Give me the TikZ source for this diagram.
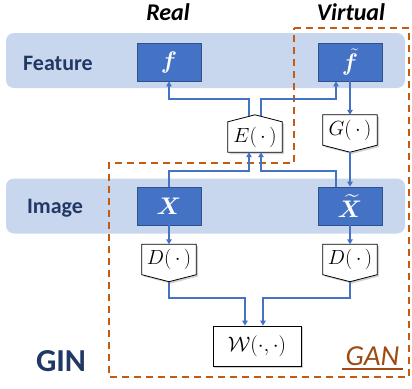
\RequirePackage{fix-cm}
\documentclass[tikz,border=0pt]{standalone}
\usepackage[no-math]{fontspec}
\setmainfont{Carlito}
\usepackage{amsmath,bm}
\usetikzlibrary{arrows.meta,calc}
\definecolor{bandfill}{HTML}{C9D7EE}
\definecolor{boxfill}{HTML}{4472C4}
\definecolor{boxedge}{HTML}{2F528F}
\definecolor{flow}{HTML}{4472C4}
\definecolor{navy}{HTML}{203864}
\definecolor{ganline}{HTML}{C55A11}
\definecolor{gantext}{HTML}{9E4A12}
\pgfdeclarelayer{back}
\pgfdeclarelayer{mid}
\pgfsetlayers{back,mid,main}
\tikzset{
  band/.style={fill=bandfill, rounded corners=8pt, draw=none, minimum width=399pt, minimum height=55pt, inner sep=0pt},
  vbox/.style={fill=boxfill, draw=boxedge, line width=0.8pt, minimum width=64pt, minimum height=38pt, inner sep=0pt, text=white, font=\fontsize{24}{28}\selectfont},
  opbody/.style={minimum width=54pt, minimum height=30pt, inner sep=0pt, font=\fontsize{20.5}{22}\selectfont},
  opline/.style={draw=black, line width=0.8pt, fill=white},
  opshadow/.style={fill=black!45, opacity=0.4, transform canvas={shift={(1.8pt,-1.8pt)}}},
  flowline/.style={draw=flow, line width=1.5pt, -{Triangle[length=5pt,width=5.5pt]}},
  rowlabel/.style={anchor=base, text=navy, font=\fontsize{22}{26}\selectfont\bfseries},
  collabel/.style={anchor=base, font=\fontsize{24}{28}\selectfont\bfseries\itshape},
  ganbox/.style={draw=ganline, line width=1.6pt, dash pattern=on 7pt off 5pt}
}
\begin{document}
\begin{tikzpicture}[x=1pt,y=-1pt]
\useasboundingbox (0,0) rectangle (412,388);

% row bands
\begin{pgfonlayer}{back}
\node[band] (featband) at (205.5,60.5) {};
\node[band] (imgband) at (205.5,206) {};
\end{pgfonlayer}

% column and row titles
\node[collabel] (real) at (168,20) {Real};
\node[collabel] (virtual) at (351,20) {Virtual};
\node[rowlabel] (feature) at (58,70) {Feature};
\node[rowlabel] (image) at (55,213) {Image};
\node[anchor=base, text=navy, font=\fontsize{32}{36}\selectfont\bfseries] (gin) at (61,371) {GIN};

% GAN region
\draw[ganbox] (294,28) -- (409,28) -- (409,377) -- (109,377) -- (109,163) -- (294,163) -- cycle;
\node[anchor=base, text=gantext, font=\fontsize{29}{32}\selectfont\itshape] (gan) at (372.5,365) {GAN};
\draw[gantext, line width=1.8pt] ([yshift=-4pt]gan.base west) -- ([yshift=-4pt]gan.base east);

% data boxes
\node[vbox] (f) at (169,62) {$\bm{f}$};
\node[vbox] (ft) at (350,62) {$\tilde{\bm{f}}$};
\node[vbox] (X) at (169,206) {$\bm{X}$};
\node[vbox] (Xt) at (350,206) {$\widetilde{\bm{X}}$};

% operators
\node[opbody] (E) at (255,137) {$E(\,\cdot\,)$};
\node[opbody] (G) at (350,130) {$G(\,\cdot\,)$};
\node[opbody] (DL) at (169,259.5) {$D(\,\cdot\,)$};
\node[opbody] (DR) at (350,259.5) {$D(\,\cdot\,)$};
\node[opbody, minimum width=88pt, minimum height=40pt, draw=black, line width=0.8pt, fill=white,
      font=\fontsize{21}{24}\selectfont] (W) at (257,346) {$\mathcal{W}(\cdot,\cdot)$};

\coordinate (Epeak) at ($(E.north)+(0,-7)$);
\coordinate (Gtip) at ($(G.south)+(0,7)$);
\coordinate (DLtip) at ($(DL.south)+(0,7)$);
\coordinate (DRtip) at ($(DR.south)+(0,7)$);

\begin{pgfonlayer}{mid}
% drop shadows
\fill[opshadow] (W.south west) rectangle (W.north east);
\fill[opshadow] (E.south west) -- (E.north west) -- (Epeak) -- (E.north east) -- (E.south east) -- cycle;
\fill[opshadow] (G.north west) -- (G.south west) -- (Gtip) -- (G.south east) -- (G.north east) -- cycle;
\fill[opshadow] (DL.north west) -- (DL.south west) -- (DLtip) -- (DL.south east) -- (DL.north east) -- cycle;
\fill[opshadow] (DR.north west) -- (DR.south west) -- (DRtip) -- (DR.south east) -- (DR.north east) -- cycle;
% operator outlines
\path[opline] (E.south west) -- (E.north west) -- (Epeak) -- (E.north east) -- (E.south east) -- cycle;
\path[opline] (G.north west) -- (G.south west) -- (Gtip) -- (G.south east) -- (G.north east) -- cycle;
\path[opline] (DL.north west) -- (DL.south west) -- (DLtip) -- (DL.south east) -- (DL.north east) -- cycle;
\path[opline] (DR.north west) -- (DR.south west) -- (DRtip) -- (DR.south east) -- (DR.north east) -- cycle;
\end{pgfonlayer}

% routing levels
\coordinate (upper) at (0,99);
\coordinate (lower) at (0,171);
\coordinate (merge) at (0,298);
\coordinate (Eleft) at ($(E.north)+(-6,-5.4)$);
\coordinate (Eright) at ($(E.north)+(6,-5.4)$);
\coordinate (Xtout) at ([xshift=-14pt]Xt.north);
\coordinate (ftin) at ([xshift=-14pt]ft.south);

% connectors
\draw[flowline] (Eleft) -- (Eleft |- upper) -| (f.south);
\draw[flowline] (Eright) -- (Eright |- upper) -| (ftin);
\draw[flowline] (ft.south) -- (G.north);
\draw[flowline] (Gtip) -- (Xt.north);
\draw[flowline] (X.north) -- (X.north |- lower) -| ([xshift=-6pt]E.south);
\draw[flowline] (Xtout) -- (Xtout |- lower) -| ([xshift=6pt]E.south);
\draw[flowline] (X.south) -- (DL.north);
\draw[flowline] (Xt.south) -- (DR.north);
\draw[flowline] (DLtip) -- (DLtip |- merge) -| ([xshift=-12pt]W.north);
\draw[flowline] (DRtip) -- (DRtip |- merge) -| ([xshift=6pt]W.north);
\end{tikzpicture}
\end{document}
